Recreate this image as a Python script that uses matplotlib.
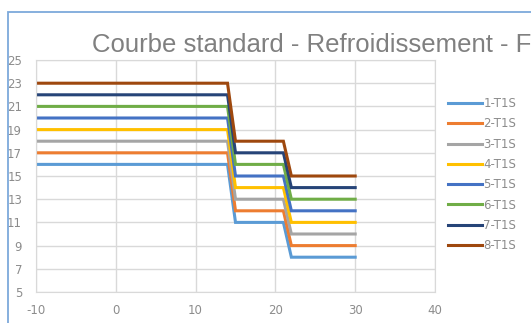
import matplotlib.pyplot as plt
from matplotlib.patches import Rectangle

plt.rcParams["axes.unicode_minus"] = False

# time points (x) and temperature plateaus for each probe
x = [-10, 14, 15, 21, 22, 30]
series = {
    "1-T1S": [16, 16, 11, 11, 8, 8],
    "2-T1S": [17, 17, 12, 12, 9, 9],
    "3-T1S": [18, 18, 13, 13, 10, 10],
    "4-T1S": [19, 19, 14, 14, 11, 11],
    "5-T1S": [20, 20, 15, 15, 12, 12],
    "6-T1S": [21, 21, 16, 16, 13, 13],
    "7-T1S": [22, 22, 17, 17, 14, 14],
    "8-T1S": [23, 23, 18, 18, 15, 15],
}
colors = ["#5B9BD5", "#ED7D31", "#A5A5A5", "#FFC000",
          "#4472C4", "#70AD47", "#264478", "#9E480E"]
xticks = [-10, 0, 10, 20, 30, 40]
yticks = [5, 7, 9, 11, 13, 15, 17, 19, 21, 23, 25]

W, H = 531, 323
fig = plt.figure(figsize=(W / 100, H / 100), dpi=100)
ax = fig.add_axes([36 / W, 1 - 292 / H, (435 - 36) / W, (292 - 60) / H])

for (name, vals), c in zip(series.items(), colors):
    ax.plot(x, vals, color=c, lw=2.2, label=name, solid_joinstyle="miter")

ax.set_xlim(-10, 40)
ax.set_ylim(5, 25)
ax.set_xticks(xticks)
ax.set_yticks(yticks)
ax.grid(True, color="#D9D9D9", lw=1)
ax.set_axisbelow(True)
for s in ax.spines.values():
    s.set_color("#D9D9D9")
ax.tick_params(length=0, colors="#8C8C8C", labelsize=8.5)
ax.tick_params(axis="y", pad=10)
ax.tick_params(axis="x", pad=9)

leg = ax.legend(loc="upper left", bbox_to_anchor=(448 / W, 1 - 97 / H),
                bbox_transform=fig.transFigure, frameon=False,
                fontsize=8.5, handlelength=2.9, handletextpad=0.1,
                labelspacing=0.62, borderaxespad=0, borderpad=0)
for t in leg.get_texts():
    t.set_color("#8C8C8C")

fig.text(92 / W, 1 - 52 / H, "Courbe standard - Refroidissement - F",
         fontsize=18.5, color="#808080", ha="left", va="baseline",
         family="Liberation Sans")

# chart frame
fig.patches.append(Rectangle((7.5 / W, -0.1), 1.2, 1.1 - 12 / H,
                             transform=fig.transFigure, fill=False,
                             ec="#7DA9DB", lw=1.3))

fig.savefig("out.png", dpi=100)
